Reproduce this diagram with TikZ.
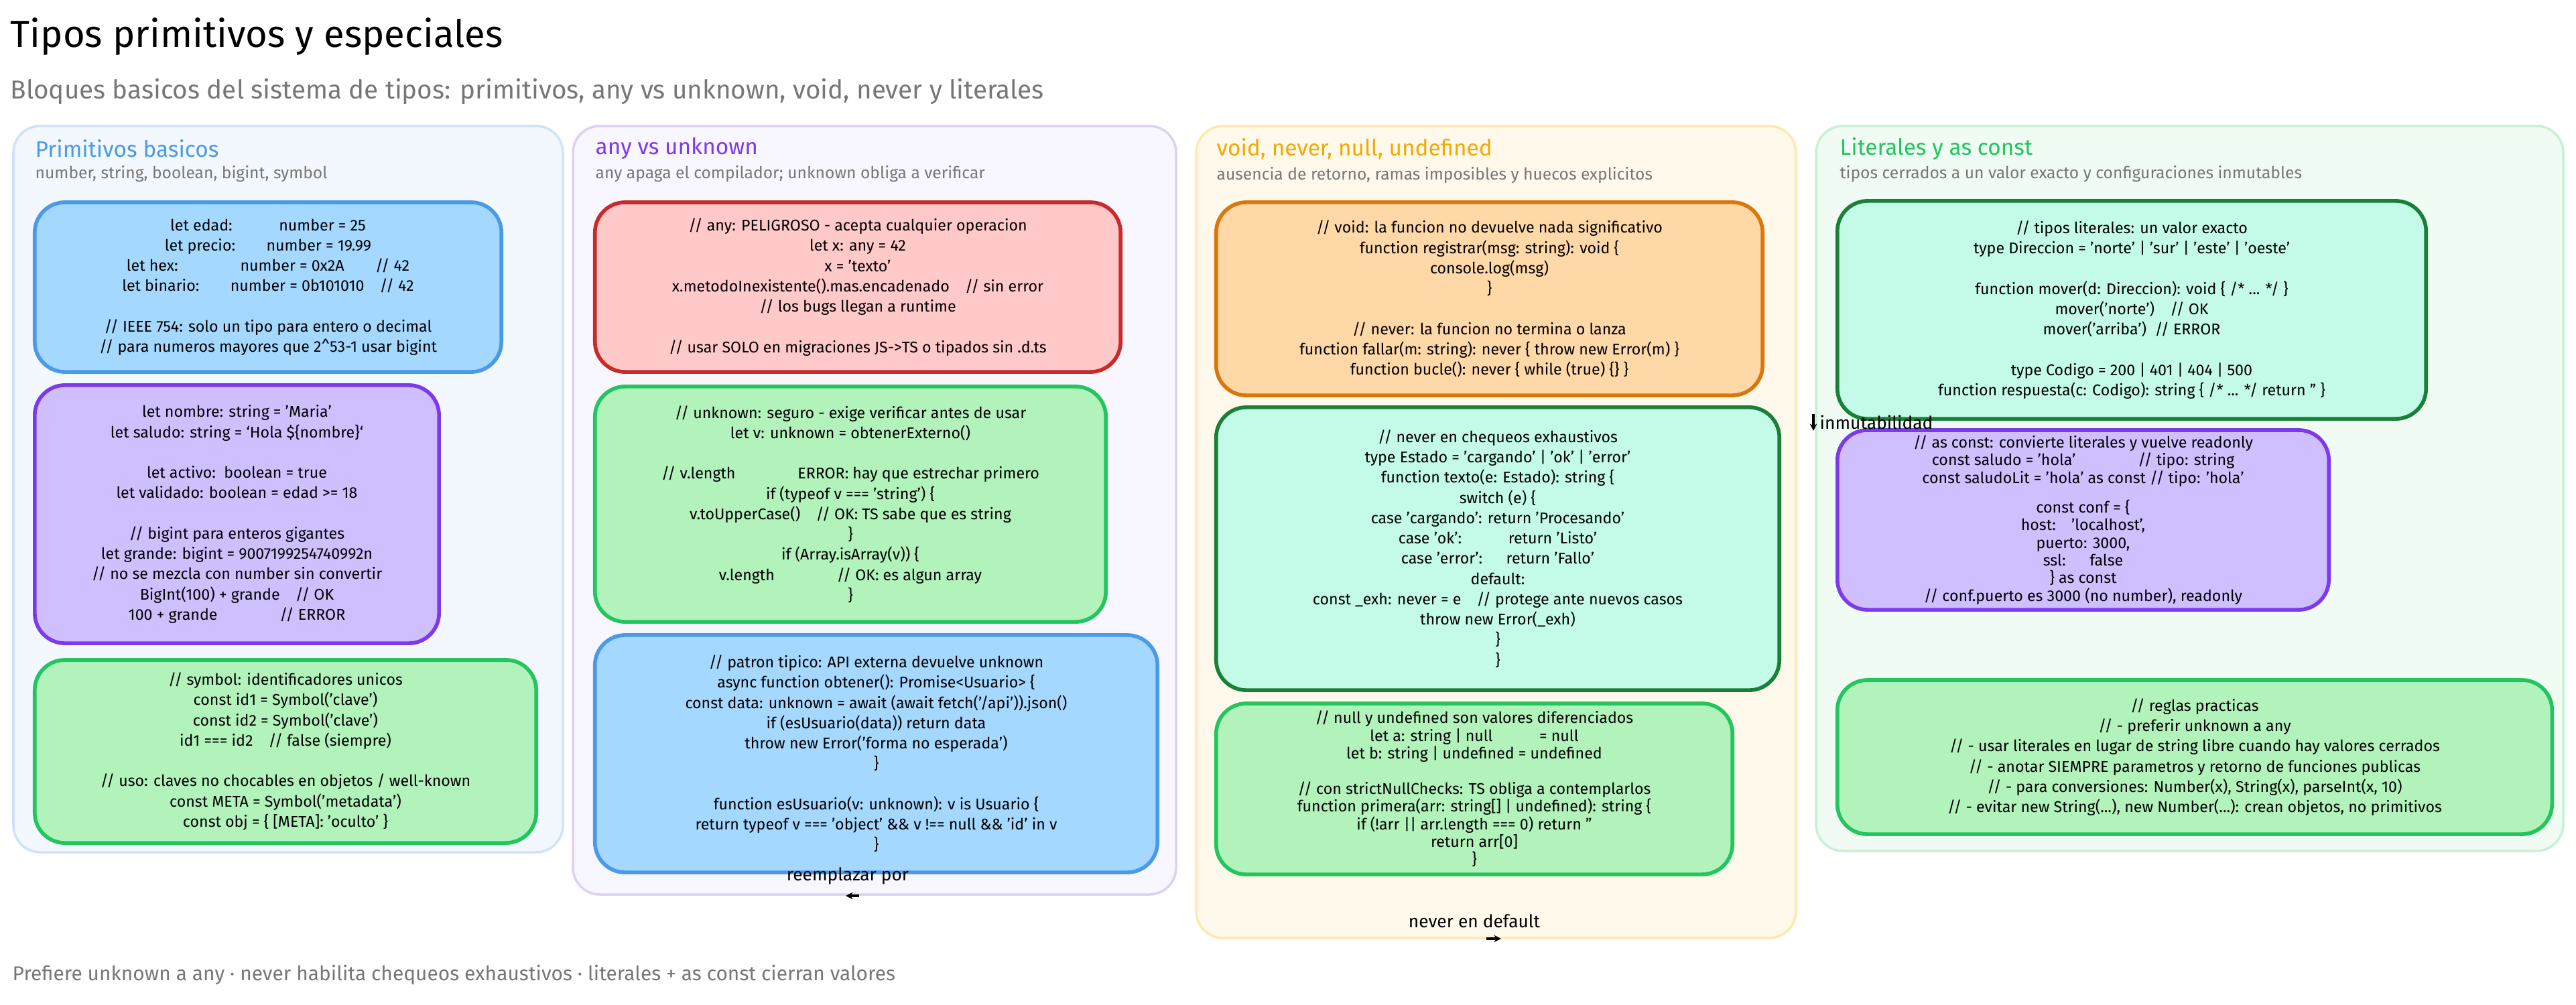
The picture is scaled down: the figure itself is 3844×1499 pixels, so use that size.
\documentclass[tikz,border=0pt]{standalone}
\usepackage{fontspec}
\setmainfont{Fira Sans}
\usetikzlibrary{arrows.meta}
\definecolor{bluef}{HTML}{A5D8FF}\definecolor{blued}{HTML}{4A9AE8}
\definecolor{purf}{HTML}{D0BFFF}\definecolor{purd}{HTML}{7C3AED}
\definecolor{grnf}{HTML}{B2F2BB}\definecolor{grnd}{HTML}{22C55E}
\definecolor{redf}{HTML}{FFC9C9}\definecolor{redd}{HTML}{C92A2A}
\definecolor{orf}{HTML}{FFD8A8}\definecolor{ord}{HTML}{D9770A}
\definecolor{teaf}{HTML}{C3FAE8}\definecolor{tead}{HTML}{1A7F37}
\definecolor{gry}{HTML}{777777}
\definecolor{p1f}{HTML}{F3F7FE}\definecolor{p1d}{HTML}{CFE2F8}
\definecolor{p2f}{HTML}{F8F6FF}\definecolor{p2d}{HTML}{DDD0F7}
\definecolor{p3f}{HTML}{FFF9EC}\definecolor{p3d}{HTML}{FFE8B0}
\definecolor{p4f}{HTML}{F0FBF3}\definecolor{p4d}{HTML}{C8F0D4}
\definecolor{t3c}{HTML}{F5A800}
\begin{document}
\begin{tikzpicture}[x=0.01cm,y=-0.01cm,
  panel/.style={rounded corners=0.4cm,line width=1pt},
  box/.style={draw,rounded corners=0.45cm,line width=1.6pt,align=center,inner sep=0pt,
     font=\fontsize{6.6}{8.6}\selectfont},
  tight/.style={font=\fontsize{6.6}{7.5}\selectfont},
  ptitle/.style={anchor=west,inner sep=0pt,font=\fontsize{9.5}{11}\selectfont},
  psub/.style={anchor=west,inner sep=0pt,text=gry,font=\fontsize{7}{9}\selectfont},
  lab/.style={inner sep=0pt,font=\fontsize{7.5}{9}\selectfont},
  arr/.style={-{Stealth[length=3pt,width=3pt]},line width=1pt}]
\useasboundingbox (0,0) rectangle (3844,1499);
\fill[white] (0,0) rectangle (3844,1499);
\node[anchor=west,inner sep=0pt,font=\fontsize{16}{18}\selectfont] (title) at (15,55) {Tipos primitivos y especiales};
\node[anchor=west,inner sep=0pt,text=gry,font=\fontsize{11}{13}\selectfont] (sub) at (15,137) {Bloques basicos del sistema de tipos: primitivos, any vs unknown, void, never y literales};
\node[anchor=west,inner sep=0pt,text=gry,font=\fontsize{8.5}{10}\selectfont] (foot) at (18,1455) {Prefiere unknown a any · never habilita chequeos exhaustivos · literales + as const cierran valores};

% panels
\draw[panel,fill=p1f,draw=p1d] (20,188) rectangle (840,1272);
\draw[panel,fill=p2f,draw=p2d] (855,188) rectangle (1755,1335);
\draw[panel,fill=p3f,draw=p3d] (1785,188) rectangle (2680,1400);
\draw[panel,fill=p4f,draw=p4d] (2710,188) rectangle (3825,1270);

\node[ptitle,text=blued] (t1) at (52,222) {Primitivos basicos};
\node[psub] (s1) at (52,260) {number, string, boolean, bigint, symbol};
\node[ptitle,text=purd] (t2) at (888,222) {any vs unknown};
\node[psub] (s2) at (888,260) {any apaga el compilador; unknown obliga a verificar};
\node[ptitle,text=t3c] (t3) at (1815,222) {void, never, null, undefined};
\node[psub] (s3) at (1815,262) {ausencia de retorno, ramas imposibles y huecos explicitos};
\node[ptitle,text=grnd] (t4) at (2745,222) {Literales y as const};
\node[psub] (s4) at (2745,260) {tipos cerrados a un valor exacto y configuraciones inmutables};

% column 1
\node[box,fill=bluef,draw=blued,minimum width=6.96cm,minimum height=2.53cm] (b1) at (400,428.5) {%
let edad:\qquad\quad number = 25\\
let precio:\qquad number = 19.99\\
let hex:\qquad\qquad number = 0x2A\qquad // 42\\
let binario:\qquad number = 0b101010\quad // 42\\[8.6pt]
// IEEE 754: solo un tipo para entero o decimal\\
// para numeros mayores que 2\textasciicircum 53-1 usar bigint};
\node[box,fill=purf,draw=purd,minimum width=6.03cm,minimum height=3.85cm] (b2) at (353.5,767.5) {%
let nombre: string = 'Maria'\\
let saludo: string = `Hola \$\{nombre\}`\\[8.6pt]
let activo:\ \ boolean = true\\
let validado: boolean = edad >= 18\\[8.6pt]
// bigint para enteros gigantes\\
let grande: bigint = 9007199254740992n\\
// no se mezcla con number sin convertir\\
BigInt(100) + grande\quad // OK\\
100 + grande\qquad\qquad // ERROR};
\node[box,fill=grnf,draw=grnd,minimum width=7.48cm,minimum height=2.73cm] (b3) at (426,1121.5) {%
// symbol: identificadores unicos\\
const id1 = Symbol('clave')\\
const id2 = Symbol('clave')\\
id1 === id2\quad // false (siempre)\\[8.6pt]
// uso: claves no chocables en objetos / well-known\\
const META = Symbol('metadata')\\
const obj = \{ [META]: 'oculto' \}};

% column 2
\node[box,fill=redf,draw=redd,minimum width=7.84cm,minimum height=2.53cm] (b4) at (1280,428.5) {%
// any: PELIGROSO - acepta cualquier operacion\\
let x: any = 42\\
x = 'texto'\\
x.metodoInexistente().mas.encadenado\quad // sin error\\
// los bugs llegan a runtime\\[8.6pt]
// usar SOLO en migraciones JS->TS o tipados sin .d.ts};
\node[box,fill=grnf,draw=grnd,minimum width=7.62cm,minimum height=3.51cm] (b5) at (1269,752.5) {%
// unknown: seguro - exige verificar antes de usar\\
let v: unknown = obtenerExterno()\\[8.6pt]
// v.length\qquad\qquad ERROR: hay que estrechar primero\\
if (typeof v === 'string') \{\\
v.toUpperCase()\quad // OK: TS sabe que es string\\
\}\\
if (Array.isArray(v)) \{\\
v.length\qquad\qquad // OK: es algun array\\
\}};
\node[box,fill=bluef,draw=blued,minimum width=8.39cm,minimum height=3.54cm] (b6) at (1307.5,1125) {%
// patron tipico: API externa devuelve unknown\\
async function obtener(): Promise<Usuario> \{\\
const data: unknown = await (await fetch('/api')).json()\\
if (esUsuario(data)) return data\\
throw new Error('forma no esperada')\\
\}\\[8.6pt]
function esUsuario(v: unknown): v is Usuario \{\\
return typeof v === 'object' \&\& v !== null \&\& 'id' in v\\
\}};
\node[lab] (l1) at (1265,1307) {reemplazar por};
\coordinate (a1s) at (1282,1337); \coordinate (a1e) at (1262,1337);
\draw[arr] (a1s) -- (a1e);

% column 3
\node[box,fill=orf,draw=ord,minimum width=8.15cm,minimum height=2.88cm] (b7) at (2222.5,446) {%
// void: la funcion no devuelve nada significativo\\
function registrar(msg: string): void \{\\
console.log(msg)\\
\}\\[8.6pt]
// never: la funcion no termina o lanza\\
function fallar(m: string): never \{ throw new Error(m) \}\\
function bucle(): never \{ while (true) \{\} \}};
\node[box,fill=teaf,draw=tead,minimum width=8.4cm,minimum height=4.22cm] (b8) at (2235,819) {%
// never en chequeos exhaustivos\\
type Estado = 'cargando' | 'ok' | 'error'\\
function texto(e: Estado): string \{\\
switch (e) \{\\
case 'cargando': return 'Procesando'\\
case 'ok':\qquad\quad return 'Listo'\\
case 'error':\quad\ \ return 'Fallo'\\
default:\\
const \_exh: never = e\quad // protege ante nuevos casos\\
throw new Error(\_exh)\\
\}\\
\}};
\node[box,tight,fill=grnf,draw=grnd,minimum width=7.7cm,minimum height=2.55cm] (b9) at (2200,1177.5) {%
// null y undefined son valores diferenciados\\
let a: string | null\qquad\quad = null\\
let b: string | undefined = undefined\\[7.5pt]
// con strictNullChecks: TS obliga a contemplarlos\\
function primera(arr: string[] | undefined): string \{\\
if (!arr || arr.length === 0) return ''\\
return arr[0]\\
\}};
\node[lab] (l2) at (2200,1375) {never en default};
\coordinate (a2s) at (2218,1401); \coordinate (a2e) at (2240,1401);
\draw[arr] (a2s) -- (a2e);

% column 4
\node[box,fill=teaf,draw=tead,minimum width=8.78cm,minimum height=3.25cm] (b10) at (3181,462.5) {%
// tipos literales: un valor exacto\\
type Direccion = 'norte' | 'sur' | 'este' | 'oeste'\\[8.6pt]
function mover(d: Direccion): void \{ /* ... */ \}\\
mover('norte')\quad // OK\\
mover('arriba')\ \ // ERROR\\[8.6pt]
type Codigo = 200 | 401 | 404 | 500\\
function respuesta(c: Codigo): string \{ /* ... */ return '' \}};
\node[box,tight,fill=purf,draw=purd,minimum width=7.33cm,minimum height=2.68cm] (b11) at (3108.5,776) {%
// as const: convierte literales y vuelve readonly\\
const saludo = 'hola'\qquad\qquad // tipo: string\\
const saludoLit = 'hola' as const // tipo: 'hola'\\[5pt]
const conf = \{\\
host:\quad 'localhost',\\
puerto: 3000,\\
ssl:\quad\ \ false\\
\} as const\\
// conf.puerto es 3000 (no number), readonly};
\node[box,fill=grnf,draw=grnd,minimum width=10.66cm,minimum height=2.3cm] (b12) at (3275,1130) {%
// reglas practicas\\
// - preferir unknown a any\\
// - usar literales en lugar de string libre cuando hay valores cerrados\\
// - anotar SIEMPRE parametros y retorno de funciones publicas\\
// - para conversiones: Number(x), String(x), parseInt(x, 10)\\
// - evitar new String(...), new Number(...): crean objetos, no primitivos};
\node[lab,anchor=west] (l3) at (2715,630) {inmutabilidad};
\coordinate (a3s) at (2706,618); \coordinate (a3e) at (2706,643);
\draw[arr] (a3s) -- (a3e);
\end{tikzpicture}
\end{document}
